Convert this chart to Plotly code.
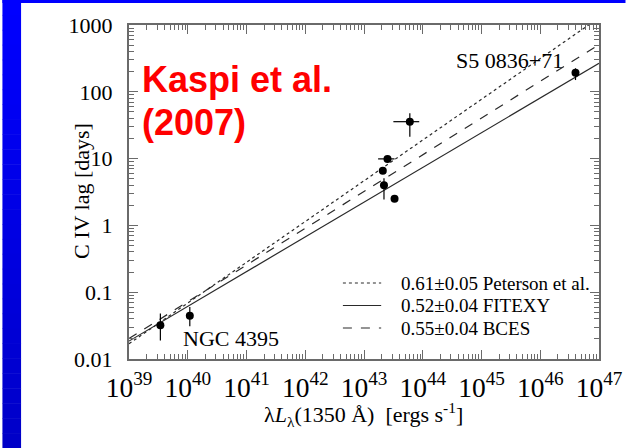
import numpy as np
import plotly.graph_objects as go

# --- C IV reverberation lags vs. UV luminosity ---------------------------
# log10 of lambda*L_lambda(1350 A) [erg/s] and lags [days]
log_lum = [39.534, 40.035, 43.78, 43.40, 43.32, 43.34, 43.52, 46.60]
lag_days = [0.032, 0.0445, 35.7, 9.9, 6.6, 4.0, 2.5, 193.0]
lag_hi = [0.048, 0.060, 47.6, 9.9, 6.6, 5.07, 2.5, 225.0]
lag_lo = [0.019, 0.031, 21.3, 9.9, 6.6, 2.45, 2.5, 150.0]
log_lum_hi = [39.534, 40.035, 43.94, 43.52, 43.32, 43.34, 43.52, 46.60]
log_lum_lo = [39.534, 40.035, 43.50, 43.24, 43.32, 43.34, 43.52, 46.60]

# Power-law fits: slope and log10(lag) at lambda*L = 1e43 erg/s
fit_names = ["0.61\u00b10.05 Peterson et al.", "0.52\u00b10.04 FITEXY", "0.55\u00b10.04 BCES"]
fit_slopes = [0.61, 0.52, 0.55]
fit_loglag_1e43 = [0.668, 0.348, 0.507]
fit_dash = ["dot", "solid", "dash"]

y_tick_vals = [0.01, 0.1, 1, 10, 100, 1000]
y_tick_text = ["0.01", "0.1", "1", "10", "100", "1000"]

# --- page geometry --------------------------------------------------------
W, H = 635, 448
L, R, T, B = 129, 608, 25, 359


def px2x(p):
    return (p - L) / (R - L)


def px2y(p):
    return (B - p) / (B - T)


SERIF = "Liberation Serif, Times New Roman, serif"
SANS = "Liberation Sans, Arial, sans-serif"
AXIS_GREY = "#6a6a6a"
LINE_COL = "#2a2a2a"

fig = go.Figure()

# fit lines
lum_grid = np.array([39.0, 47.0])
for name, s, c, d in zip(fit_names, fit_slopes, fit_loglag_1e43, fit_dash):
    fig.add_trace(go.Scatter(
        x=10 ** lum_grid,
        y=10 ** (c + s * (lum_grid - 43.0)),
        mode="lines",
        name=name,
        showlegend=False,
        line=dict(color=LINE_COL, width=1.2, dash=d),
        hoverinfo="skip",
    ))

# data points with asymmetric error bars
x_vals = [10 ** v for v in log_lum]
fig.add_trace(go.Scatter(
    x=x_vals,
    y=lag_days,
    mode="markers",
    showlegend=False,
    marker=dict(color="black", size=8),
    error_y=dict(
        type="data", symmetric=False,
        array=[h - v for h, v in zip(lag_hi, lag_days)],
        arrayminus=[v - l for l, v in zip(lag_lo, lag_days)],
        color="black", thickness=1.2, width=0,
    ),
    error_x=dict(
        type="data", symmetric=False,
        array=[10 ** h - x for h, x in zip(log_lum_hi, x_vals)],
        arrayminus=[x - 10 ** l for l, x in zip(log_lum_lo, x_vals)],
        color="black", thickness=1.2, width=0,
    ),
))

# blue slide border (vertical gradient on the left strip, solid band on top)
shapes = []
n_strips = 30
for i in range(n_strips):
    f = i / (n_strips - 1)
    blue = int(round(255 - f * (255 - 200)))
    y0 = i * H / n_strips
    y1 = (i + 1) * H / n_strips + 0.5
    shapes.append(dict(
        type="rect", xref="paper", yref="paper", layer="below",
        x0=px2x(0), x1=px2x(19), y0=px2y(y1), y1=px2y(y0),
        fillcolor=f"rgb(0,0,{blue})", line=dict(width=0),
    ))
shapes.append(dict(
    type="rect", xref="paper", yref="paper", layer="below",
    x0=px2x(0), x1=px2x(W), y0=px2y(3), y1=px2y(0),
    fillcolor="rgb(0,0,255)", line=dict(width=0),
))

annotations = [
    dict(text="<b>Kaspi et al.</b>", x=px2x(140), y=px2y(79), xref="paper", yref="paper",
         xanchor="left", yanchor="middle", showarrow=False,
         font=dict(family=SANS, size=36, color="#ff0000")),
    dict(text="<b>(2007)</b>", x=px2x(140), y=px2y(122), xref="paper", yref="paper",
         xanchor="left", yanchor="middle", showarrow=False,
         font=dict(family=SANS, size=36, color="#ff0000")),
    dict(text="S5 0836+71", x=px2x(573), y=px2y(61), xref="paper", yref="paper",
         xanchor="right", yanchor="middle", showarrow=False,
         font=dict(family=SERIF, size=22, color="black")),
    dict(text="NGC 4395", x=px2x(182), y=px2y(338), xref="paper", yref="paper",
         xanchor="left", yanchor="middle", showarrow=False,
         font=dict(family=SERIF, size=22, color="black")),
    dict(text="C IV lag [days]", x=px2x(80), y=px2y(191), xref="paper", yref="paper",
         xanchor="center", yanchor="middle", showarrow=False, textangle=-90,
         font=dict(family=SERIF, size=22, color="black")),
    dict(text="\u03bb<i>L</i><sub>\u03bb</sub>(1350 \u00c5)\u00a0\u00a0[ergs s<sup>-1</sup>]",
         x=px2x(368), y=px2y(414), xref="paper", yref="paper",
         xanchor="center", yanchor="middle", showarrow=False,
         font=dict(family=SERIF, size=22, color="black")),
]

# key for the fit lines
key_rows = [283, 305.5, 328]
for name, d, yr in zip(fit_names, fit_dash, key_rows):
    shapes.append(dict(
        type="line", xref="paper", yref="paper",
        x0=px2x(347), x1=px2x(386), y0=px2y(yr), y1=px2y(yr),
        line=dict(color=LINE_COL, width=1.2, dash=d),
    ))
    annotations.append(dict(
        text=name, x=px2x(404), y=px2y(yr), xref="paper", yref="paper",
        xanchor="left", yanchor="middle", showarrow=False,
        font=dict(family=SERIF, size=19, color="black"),
    ))

axis_common = dict(
    type="log",
    showline=True, linecolor=AXIS_GREY, linewidth=2,
    mirror="allticks", ticks="inside", ticklen=9, tickwidth=1.2, tickcolor=AXIS_GREY,
    showgrid=False, zeroline=False,
    tickfont=dict(family=SERIF, size=22, color="black"),
    minor=dict(ticks="inside", ticklen=5, tickwidth=1, tickcolor=AXIS_GREY,
               dtick="D1", showgrid=False),
)

fig.update_layout(
    width=W, height=H,
    margin=dict(l=L, r=W - R, t=T, b=H - B, pad=0),
    paper_bgcolor="white", plot_bgcolor="white",
    shapes=shapes,
    annotations=annotations,
    showlegend=False,
    xaxis=dict(
        **axis_common,
        range=[39, 47], dtick=1, exponentformat="power",
        ticklabelstandoff=4,
    ),
    yaxis=dict(
        **axis_common,
        range=[-2, 3], tickmode="array", tickvals=y_tick_vals, ticktext=y_tick_text,
        ticklabelstandoff=10,
    ),
)

fig.write_html("out.html")
